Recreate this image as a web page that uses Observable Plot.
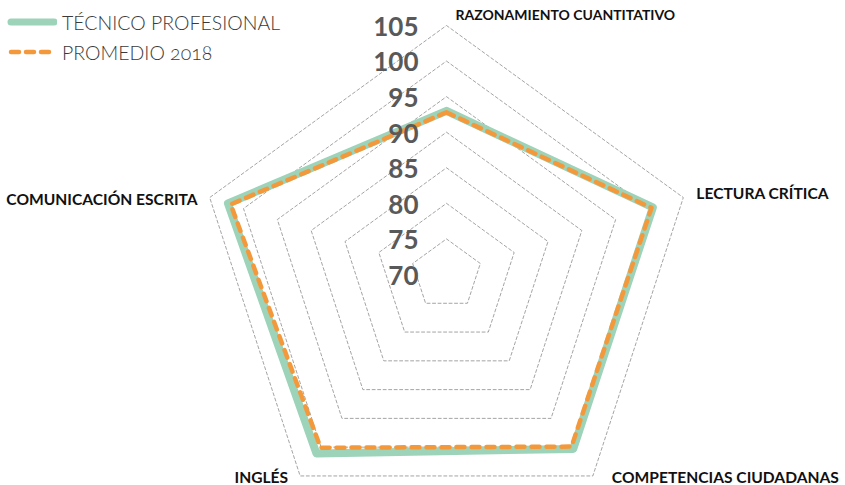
<!DOCTYPE html>
<html>
<head>
<meta charset="utf-8">
<script src="https://cdn.jsdelivr.net/npm/d3@7"></script>
<script src="https://cdn.jsdelivr.net/npm/@observablehq/plot@0.6"></script>
<style>
  html, body { margin: 0; padding: 0; background: #fff; }
  #wrap { position: relative; width: 845px; height: 485px; font-family: Lato, "Noto Sans", sans-serif; }
  #legend { position: absolute; left: 7px; top: 7px; }
  .item { display: flex; align-items: center; height: 30px; font-size: 19.5px; font-weight: 300; color: #3a3a3a; }
  .item svg { margin-right: 5px; }
</style>
</head>
<body>
<div id="wrap">
  <div id="chart"></div>
  <div id="legend"></div>
</div>
<script>
const categories = ["RAZONAMIENTO CUANTITATIVO", "LECTURA CRÍTICA", "COMPETENCIAS CIUDADANAS", "INGLÉS", "COMUNICACIÓN ESCRITA"];
const tecnicoProfesional = [93.0, 100.5, 100.3, 101.1, 102.3];
const promedio2018 = [92.8, 100.3, 99.9, 100.1, 101.9];
const seriesNames = ["TÉCNICO PROFESIONAL", "PROMEDIO 2018"];
const tickValues = [70, 75, 80, 85, 90, 95, 100, 105];

const minV = 70, maxV = 105;
const colors = ["#9dd3b9", "#f4993b"];

const n = categories.length;
const angle = i => (i * 2 * Math.PI) / n;
const toXY = (v, i) => ({ x: (v - minV) * Math.sin(angle(i)), y: (v - minV) * Math.cos(angle(i)) });

const seriesPts = (vals, name) => vals.map((v, i) => ({ ...toXY(v, i), series: name, cat: categories[i] }));
const ringPts = tickValues.filter(t => t > minV).flatMap(t => categories.map((c, i) => ({ ...toXY(t, i), ring: t })));
const tickPts = tickValues.map(t => ({ x: 0, y: t - minV, label: String(t) }));
const outer = categories.map((c, i) => ({ ...toXY(maxV, i), label: c }));

// px per unit ≈ 7.114, center at (446, 274)
const ppu = 249 / (maxV - minV);
const W = 845, H = 485, cx = 446, cy = 274;

const labelStyle = [
  { textAnchor: "start", dx: 9, dy: -10, fontSize: 14 },
  { textAnchor: "start", dx: 13, dy: -4, fontSize: 15.6 },
  { textAnchor: "start", dx: 19, dy: 2, fontSize: 15.6 },
  { textAnchor: "end", dx: -12, dy: 2, fontSize: 15.6 },
  { textAnchor: "end", dx: -12, dy: 2, fontSize: 15.6 }
];

const chart = Plot.plot({
  width: W, height: H,
  margin: 0,
  x: { domain: [-cx / ppu, (W - cx) / ppu], axis: null },
  y: { domain: [-(H - cy) / ppu, cy / ppu], axis: null },
  style: { fontFamily: "Lato, 'Noto Sans', sans-serif", background: "transparent" },
  marks: [
    Plot.line(ringPts, { x: "x", y: "y", z: "ring", curve: "linear-closed", stroke: "#9a9a9a", strokeWidth: 0.9, strokeDasharray: "3,2.5" }),
    Plot.line(seriesPts(tecnicoProfesional, seriesNames[0]), { x: "x", y: "y", curve: "linear-closed", stroke: colors[0], strokeWidth: 8, strokeLinejoin: "round" }),
    Plot.line(seriesPts(promedio2018, seriesNames[1]), { x: "x", y: "y", curve: "linear-closed", stroke: colors[1], strokeWidth: 4.5, strokeLinejoin: "round", strokeLinecap: "round", strokeDasharray: "8,7" }),
    Plot.text(tickPts, { x: "x", y: "y", text: "label", textAnchor: "end", dx: -28, dy: 2, fontSize: 26, fontWeight: 700, fill: "#595959" }),
    ...outer.map((d, i) => Plot.text([d], { x: "x", y: "y", text: "label", ...labelStyle[i], fontWeight: 700, fill: "#111" }))
  ]
});
document.getElementById("chart").appendChild(chart);

const legend = document.getElementById("legend");
seriesNames.forEach((name, i) => {
  const item = document.createElement("div");
  item.className = "item";
  const dash = i === 1 ? ' stroke-dasharray="8,7"' : "";
  const sw = i === 1 ? 4.5 : 7;
  item.innerHTML = `<svg width="50" height="12"><line x1="4" y1="6" x2="47" y2="6" stroke="${colors[i]}" stroke-width="${sw}" stroke-linecap="round"${dash}></line></svg><span style="font-variant-numeric: oldstyle-nums">${name}</span>`;
  legend.appendChild(item);
});
</script>
</body>
</html>
